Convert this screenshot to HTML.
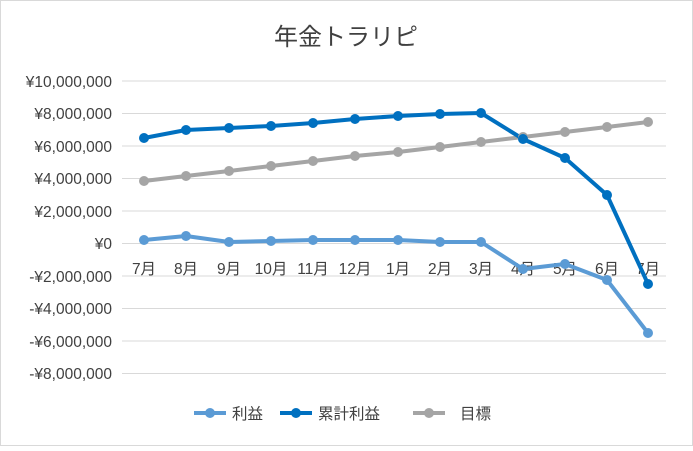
<!DOCTYPE html>
<html><head><meta charset="utf-8"><style>
body{margin:0;background:#fff}
svg text{font-family:"Liberation Sans","Noto Sans CJK JP",sans-serif;fill:#404040}
</style></head><body>
<svg width="693" height="446" viewBox="0 0 693 446" xmlns="http://www.w3.org/2000/svg">
<rect x="0.5" y="0.5" width="692" height="445" fill="#fff" stroke="#d9d9d9"/>
<text x="346" y="45" font-size="24" text-anchor="middle">年金トラリピ</text>
<g stroke="#d9d9d9" stroke-width="1">
<line x1="122" x2="666" y1="81" y2="81"/><line x1="122" x2="666" y1="113.5" y2="113.5"/>
<line x1="122" x2="666" y1="146" y2="146"/><line x1="122" x2="666" y1="178.5" y2="178.5"/>
<line x1="122" x2="666" y1="211" y2="211"/><line x1="122" x2="666" y1="243.5" y2="243.5"/>
<line x1="122" x2="666" y1="276" y2="276"/><line x1="122" x2="666" y1="308.5" y2="308.5"/>
<line x1="122" x2="666" y1="341" y2="341"/><line x1="122" x2="666" y1="373.5" y2="373.5"/>
</g>
<g font-size="15.5" text-anchor="end">
<text x="112" y="87">¥10,000,000</text><text x="112" y="119">¥8,000,000</text>
<text x="112" y="152">¥6,000,000</text><text x="112" y="184">¥4,000,000</text>
<text x="112" y="217">¥2,000,000</text><text x="112" y="249">¥0</text>
<text x="112" y="282">-¥2,000,000</text><text x="112" y="314">-¥4,000,000</text>
<text x="112" y="347">-¥6,000,000</text><text x="112" y="379">-¥8,000,000</text>
</g>
<g font-size="15.5" text-anchor="middle">
<text x="144" y="274">7月</text><text x="186" y="274">8月</text><text x="229" y="274">9月</text>
<text x="271" y="274">10月</text><text x="313" y="274">11月</text><text x="355" y="274">12月</text>
<text x="398" y="274">1月</text><text x="440" y="274">2月</text><text x="481" y="274">3月</text>
<text x="523" y="274">4月</text><text x="565" y="274">5月</text><text x="607" y="274">6月</text>
<text x="648" y="274">7月</text>
</g>
<g fill="none" stroke-width="4" stroke-linejoin="round">
<polyline stroke="#a5a5a5" points="144,181 186,176 229,171 271,166 313,161 355,156 398,152 440,147 481,142 523,137 565,132 607,127 648,122"/>
<polyline stroke="#0070c0" points="144,138 186,130 229,128 271,126 313,123 355,119 398,116 440,114 481,113 523,139 565,158 607,195 648,284"/>
<polyline stroke="#5b9bd5" points="144,240 186,236 229,242 271,241 313,240 355,240 398,240 440,242 481,242 523,269 565,264 607,280 648,333"/>
</g>
<g fill="#a5a5a5"><circle cx="144" cy="181" r="5"/><circle cx="186" cy="176" r="5"/><circle cx="229" cy="171" r="5"/><circle cx="271" cy="166" r="5"/><circle cx="313" cy="161" r="5"/><circle cx="355" cy="156" r="5"/><circle cx="398" cy="152" r="5"/><circle cx="440" cy="147" r="5"/><circle cx="481" cy="142" r="5"/><circle cx="523" cy="137" r="5"/><circle cx="565" cy="132" r="5"/><circle cx="607" cy="127" r="5"/><circle cx="648" cy="122" r="5"/></g>
<g fill="#0070c0"><circle cx="144" cy="138" r="5"/><circle cx="186" cy="130" r="5"/><circle cx="229" cy="128" r="5"/><circle cx="271" cy="126" r="5"/><circle cx="313" cy="123" r="5"/><circle cx="355" cy="119" r="5"/><circle cx="398" cy="116" r="5"/><circle cx="440" cy="114" r="5"/><circle cx="481" cy="113" r="5"/><circle cx="523" cy="139" r="5"/><circle cx="565" cy="158" r="5"/><circle cx="607" cy="195" r="5"/><circle cx="648" cy="284" r="5"/></g>
<g fill="#5b9bd5"><circle cx="144" cy="240" r="5"/><circle cx="186" cy="236" r="5"/><circle cx="229" cy="242" r="5"/><circle cx="271" cy="241" r="5"/><circle cx="313" cy="240" r="5"/><circle cx="355" cy="240" r="5"/><circle cx="398" cy="240" r="5"/><circle cx="440" cy="242" r="5"/><circle cx="481" cy="242" r="5"/><circle cx="523" cy="269" r="5"/><circle cx="565" cy="264" r="5"/><circle cx="607" cy="280" r="5"/><circle cx="648" cy="333" r="5"/></g>
<g stroke-width="4">
<line x1="194" x2="226" y1="413" y2="413" stroke="#5b9bd5"/><circle cx="210" cy="413" r="5" fill="#5b9bd5"/>
<line x1="280" x2="312" y1="413" y2="413" stroke="#0070c0"/><circle cx="296" cy="413" r="5" fill="#0070c0"/>
<line x1="413" x2="445" y1="413" y2="413" stroke="#a5a5a5"/><circle cx="429" cy="413" r="5" fill="#a5a5a5"/>
</g>
<g font-size="15.5"><text x="232" y="419">利益</text><text x="318" y="419">累計利益</text><text x="460" y="419">目標</text></g>
</svg>
</body></html>
